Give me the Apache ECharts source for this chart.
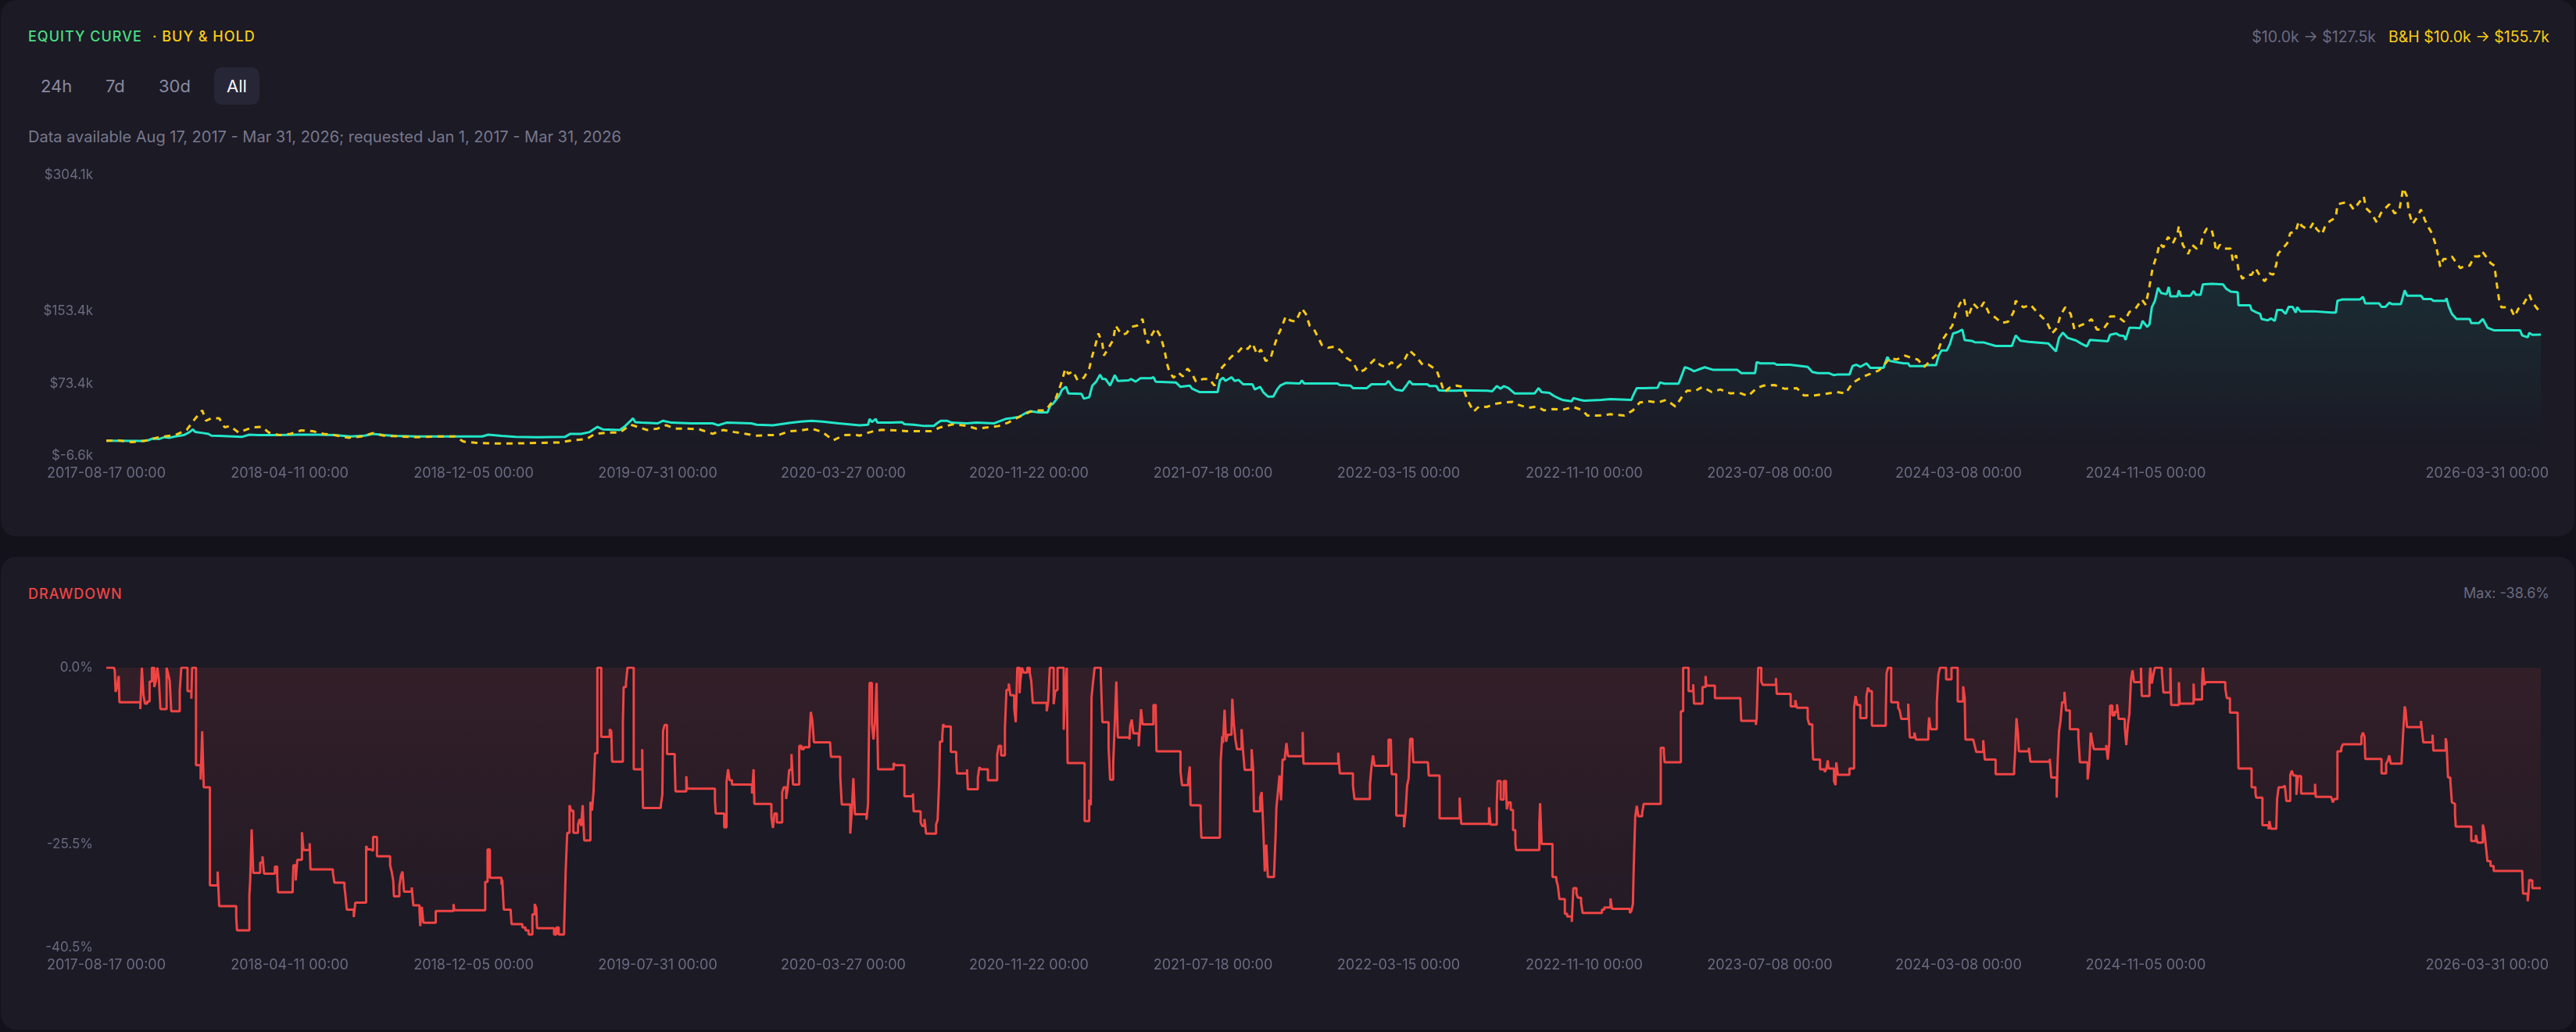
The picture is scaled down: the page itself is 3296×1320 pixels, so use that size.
<!DOCTYPE html>
<html>
<head>
<meta charset="utf-8">
<script src="https://cdn.jsdelivr.net/npm/echarts@6/dist/echarts.min.js"></script>
<style>
  html, body { margin:0; padding:0; width:3296px; height:1320px; overflow:hidden; background:#13121b; font-family: Inter, "Noto Sans", sans-serif; }
  .panel { position:absolute; left:1px; width:3293px; background:#1b1a25; border-radius:20px; }
  .t { position:absolute; white-space:nowrap; }
  .btn { position:absolute; top:86px; height:48px; line-height:48px; padding:0 16px; font-size:22px; color:#8a89a0; border-radius:10px; }
  .btn.on { background:#272636; color:#f4f4f8; }
  #chart { position:absolute; left:0; top:0; width:3296px; height:1320px; }
</style>
</head>
<body>
<div class="panel" style="top:0;height:686px"></div>
<div class="panel" style="top:712px;height:605px"></div>

<div class="t" style="left:36px;top:35px;height:24px;line-height:24px;font-size:18px;font-weight:500;letter-spacing:1px;color:#4ade80">EQUITY CURVE</div>
<div class="t" style="left:195px;top:35px;height:24px;line-height:24px;font-size:18px;font-weight:500;letter-spacing:1px;color:#facc15">· BUY &amp; HOLD</div>
<div class="btn" style="left:36px">24h</div>
<div class="btn" style="left:119px">7d</div>
<div class="btn" style="left:187px">30d</div>
<div class="btn on" style="left:274px">All</div>
<div class="t" style="left:36px;top:162px;height:26px;line-height:26px;font-size:20px;color:#78778c">Data available Aug 17, 2017 - Mar 31, 2026; requested Jan 1, 2017 - Mar 31, 2026</div>
<div class="t" style="right:34px;top:34px;height:26px;line-height:26px;font-size:19.5px;">
  <span style="color:#6b6a80">$10.0k → $127.5k</span><span style="color:#facc15;margin-left:16px">B&amp;H $10.0k → $155.7k</span>
</div>
<div class="t" style="left:36px;top:748px;height:24px;line-height:24px;font-size:18px;font-weight:500;letter-spacing:1px;color:#ef4444">DRAWDOWN</div>
<div class="t" style="right:34px;top:747px;height:24px;line-height:24px;font-size:18px;color:#6b6a80">Max: -38.6%</div>

<div id="chart"></div>
<script>
// x values are days since 2017-08-17; equity values in $k; drawdown in %
const START = '2017-08-17';
const LAST_DAY = 3148;
const tickDates = ['2017-08-17','2018-04-11','2018-12-05','2019-07-31','2020-03-27','2020-11-22','2021-07-18','2022-03-15','2022-11-10','2023-07-08','2024-03-08','2024-11-05','2026-03-31'];
const equityTicks = [-6.6, 73.4, 153.4, 304.1];
const ddTicks = [-40.5, -25.5, 0];

const strategy = [[0,10.0],[47,9.8],[54,10.5],[60,12.5],[68,11.9],[75,14.0],[82,13.4],[89,14.8],[100,16.3],[107,19.2],[112,22.6],[115,19.7],[125,18.6],[132,17.7],[136,15.7],[146,15.4],[175,14.3],[185,16.8],[196,16.3],[224,16.3],[245,16.8],[274,16.8],[295,16.3],[316,14.8],[334,15.7],[345,17.7],[359,16.3],[373,15.4],[401,14.8],[486,14.8],[494,16.8],[511,15.4],[529,14.3],[557,14.0],[593,14.3],[600,17.7],[614,17.7],[625,19.7],[635,25.5],[642,22.6],[664,22.0],[671,26.4],[678,32.2],[681,35.0],[684,30.7],[692,30.1],[713,29.3],[720,32.2],[731,30.1],[756,29.3],[784,29.3],[791,27.2],[802,30.1],[834,29.3],[841,27.8],[862,27.2],[883,29.8],[898,31.3],[912,32.2],[926,31.3],[947,29.3],[974,27.2],
[985,27.8],[987,34.2],[990,30.7],[995,34.2],[997,30.1],[1015,30.1],[1029,30.7],[1032,28.4],[1044,27.8],[1058,26.4],[1070,26.4],[1074,29.3],[1079,32.2],[1087,32.2],[1093,30.1],[1113,29.3],[1125,30.1],[1148,29.3],[1154,31.3],[1163,34.2],[1171,35.1],[1180,36.5],[1189,40.8],[1195,42.8],[1206,41.4],[1217,41.4],[1221,49.5],[1224,50.9],[1232,59.6],[1236,66.8],[1241,69.7],[1244,62.5],[1261,61.9],[1264,56.7],[1271,58.2],[1275,71.1],[1280,75.5],[1285,83.3],[1288,78.4],[1292,78.4],[1298,71.1],[1304,82.7],[1308,76.3],[1322,76.9],[1325,78.4],[1331,75.5],[1337,79.2],[1351,79.2],[1354,80.4],[1357,75.5],[1383,74.6],[1389,69.7],[1401,71.1],[1404,67.7],[1414,63.9],[1437,63.9],[1440,76.9],[1444,79.8],[1447,76.3],[1455,80.4],[1459,76.3],[1464,77.5],[1470,72.6],[1482,72.6],[1485,66.8],[1492,69.7],[1496,63.9],[1502,59.0],[1509,59.0],[1514,66.8],[1518,71.1],[1525,74.0],[1543,73.4],[1546,76.9],[1549,73.4],[1592,73.4],[1595,71.7],[1609,71.1],[1612,68.3],[1630,68.3],[1636,72.6],[1654,72.6],[1658,76.3],[1662,71.1],[1667,66.8],[1676,65.4],[1681,71.1],[1685,76.3],[1689,72.6],[1708,72.6],[1711,70.6],[1720,70.6],[1723,65.9],[1731,65.4],[1746,65.4],[1752,65.9],[1786,65.4],[1792,64.8],[1798,70.6],[1803,67.7],[1807,70.6],[1813,68.3],[1821,62.5],[1847,62.5],[1852,68.3],[1856,63.9],[1866,63.1],[1872,59.6],[1879,56.7],
[1884,55.0],[1895,53.8],[1897,57.3],[1906,55.3],[1911,54.4],[1933,55.3],[1945,56.1],[1972,55.3],[1974,59.6],[1979,68.3],[1988,68.3],[2006,68.8],[2009,74.6],[2015,73.2],[2033,73.2],[2036,79.8],[2041,91.4],[2044,90.8],[2049,89.0],[2053,87.0],[2062,89.9],[2067,91.4],[2078,88.5],[2109,88.5],[2114,85.0],[2132,85.0],[2134,97.1],[2139,95.7],[2157,95.7],[2160,94.2],[2177,94.2],[2179,92.8],[2200,91.9],[2206,86.2],[2213,85.0],[2227,85.0],[2234,82.7],[2238,83.3],[2254,83.3],[2258,92.8],[2263,94.2],[2268,91.9],[2276,95.7],[2281,90.8],[2298,90.8],[2303,102.9],[2306,98.6],[2315,97.1],[2324,95.7],[2330,95.7],[2332,92.8],[2349,92.8],[2353,93.7],[2366,93.7],[2369,103.6],[2373,110.1],[2380,110.1],[2384,117.3],[2388,128.9],[2394,130.3],[2400,133.2],[2403,121.5],[2412,120.7],[2416,119.2],[2428,118.8],[2443,115.0],[2464,115.0],[2469,126.6],[2475,120.8],[2486,119.6],[2511,117.9],[2521,109.0],[2525,124.0],[2530,129.8],[2536,124.0],[2547,121.1],[2553,117.9],[2561,114.5],[2565,121.7],[2588,120.2],
[2591,127.4],[2599,128.9],[2603,126.6],[2609,126.0],[2611,121.7],[2616,135.2],[2622,135.2],[2630,134.7],[2633,142.7],[2639,136.1],[2642,139.0],[2645,157.8],[2649,165.0],[2653,179.4],[2657,173.6],[2664,172.2],[2667,180.3],[2669,169.9],[2678,169.9],[2680,176.5],[2682,170.7],[2695,170.7],[2699,175.7],[2702,171.6],[2708,171.6],[2711,183.2],[2722,183.7],[2737,183.2],[2741,178.5],[2747,175.1],[2756,174.5],[2757,160.1],[2772,160.1],[2774,154.9],[2779,152.6],[2785,150.5],[2787,144.8],[2795,143.3],[2799,145.6],[2804,142.7],[2807,154.9],[2813,154.9],[2818,150.5],[2822,158.3],[2827,158.3],[2831,152.0],[2833,157.8],[2837,153.4],[2854,153.4],[2856,152.0],[2877,152.0],[2879,150.5],[2883,152.0],[2885,165.0],[2891,166.4],[2914,166.4],[2918,169.3],[2921,162.1],[2939,162.1],[2942,158.3],[2947,158.3],[2952,162.9],[2956,161.2],[2967,161.2],[2972,176.5],[2975,170.7],[2993,170.7],[2996,167.0],[3006,167.0],[3009,165.0],[3025,165.0],[3026,167.9],[3029,158.3],[3033,150.5],[3039,144.8],[3056,144.8],[3058,140.4],[3068,140.4],[3073,144.8],[3079,135.2],[3087,132.4],[3121,132.4],[3124,126.6],[3131,124.6],[3133,129.5],[3137,127.4],[3148,127.5]];

const buyHold = [[0,10.0],[15,10.5],[33,8.5],[50,10.0],[65,13.4],[75,14.8],[89,16.3],[104,22.0],[114,33.6],[124,43.7],[129,32.2],[136,35.0],[146,35.0],[153,24.9],[160,26.4],[171,19.2],[189,24.9],[201,25.5],[210,19.2],[224,16.3],[238,17.7],[252,21.5],[267,20.6],[281,17.7],[295,16.3],[313,13.4],[330,14.8],[345,18.6],[359,15.7],[380,14.8],[401,14.0],[430,14.8],[451,14.8],[462,9.1],[479,7.6],[501,7.1],[529,7.1],[557,7.6],[586,8.2],[603,10.5],[621,11.9],[632,17.7],[650,19.2],[664,19.2],[678,27.8],[689,24.9],[699,22.0],[713,23.5],[724,27.2],[735,23.5],[749,23.5],[767,22.6],[784,17.7],[798,22.0],[812,19.7],[827,17.7],[841,15.7],[855,16.3],[869,16.3],[883,20.6],[898,21.5],[912,23.5],[926,19.7],[940,10.5],[954,16.3],[968,16.8],
[974,15.7],[980,17.7],[992,20.6],[1003,22.1],[1021,21.5],[1035,20.6],[1053,20.6],[1067,20.6],[1079,25.0],[1096,28.4],[1113,26.4],[1125,23.5],[1142,25.0],[1154,26.4],[1166,30.1],[1177,35.1],[1195,42.3],[1206,43.7],[1215,43.7],[1221,50.9],[1227,55.3],[1232,66.8],[1236,76.9],[1240,89.9],[1244,84.1],[1250,87.0],[1256,76.9],[1264,79.8],[1271,89.9],[1275,104.3],[1279,115.9],[1283,128.9],[1288,117.3],[1290,104.3],[1296,113.0],[1302,121.7],[1305,137.5],[1310,131.2],[1314,127.4],[1319,128.9],[1325,136.1],[1333,137.5],[1340,144.8],[1343,129.5],[1347,117.9],[1351,126.0],[1357,134.7],[1363,126.0],[1368,111.6],[1372,94.2],[1375,85.6],[1380,79.8],[1386,85.6],[1392,81.3],[1398,89.9],[1404,84.1],[1409,75.5],[1418,78.4],[1426,78.4],[1433,71.1],[1438,85.6],[1443,91.4],[1449,97.1],[1453,101.5],[1459,106.4],[1464,108.7],[1470,114.5],[1476,111.6],[1482,117.9],[1488,105.8],[1493,111.0],[1499,98.6],[1505,100.0],[1509,111.6],[1514,124.6],[1520,136.1],[1525,147.6],[1531,143.3],[1538,141.9],[1546,156.3],[1551,150.5],[1556,137.5],[1561,134.7],[1566,126.0],[1572,115.9],[1580,113.0],[1589,114.5],[1596,110.1],[1604,101.5],[1612,97.1],[1619,85.6],[1627,88.5],[1633,94.2],[1640,100.0],[1647,94.2],[1654,91.4],[1662,97.1],[1669,90.8],[1677,97.1],[1685,110.1],[1694,102.9],[1702,94.2],[1710,94.2],[1720,88.5],[1725,76.9],[1730,63.9],[1737,68.8],[1746,71.1],[1754,69.7],[1760,55.3],[1768,42.3],[1775,48.0],[1785,47.5],[1795,50.9],[1807,52.4],[1818,53.2],[1827,49.5],[1839,46.6],[1850,48.0],[1859,43.7],[1871,45.2],
[1884,44.6],[1897,47.5],[1909,43.7],[1915,37.9],[1929,37.9],[1945,39.4],[1963,37.9],[1974,43.7],[1983,52.4],[1994,53.8],[2006,52.4],[2017,55.3],[2029,48.0],[2037,58.2],[2044,65.4],[2055,65.4],[2064,69.7],[2076,63.9],[2087,66.8],[2100,62.5],[2112,63.1],[2123,59.6],[2134,68.3],[2143,71.1],[2157,71.7],[2170,67.7],[2186,68.3],[2195,60.2],[2209,60.2],[2222,61.9],[2238,63.9],[2249,62.5],[2258,74.0],[2270,80.4],[2281,84.1],[2292,87.9],[2299,94.2],[2306,101.5],[2315,100.0],[2326,104.3],[2335,101.5],[2342,100.0],[2351,91.9],[2360,100.0],[2367,105.8],[2373,120.2],[2380,128.9],[2387,137.5],[2391,150.5],[2397,162.1],[2402,167.9],[2407,146.2],[2414,162.1],[2422,154.9],[2428,163.5],[2434,152.0],[2443,146.2],[2451,140.4],[2459,141.9],[2466,152.0],[2469,165.0],[2479,157.8],[2488,160.6],[2497,152.0],[2509,141.9],[2516,128.9],[2522,134.7],[2527,149.1],[2533,157.8],[2540,150.5],[2545,133.2],[2552,137.5],[2561,140.4],[2567,144.8],[2574,133.2],[2582,133.2],[2588,140.4],
[2591,147.6],[2601,147.6],[2609,141.9],[2616,152.6],[2624,156.3],[2632,166.4],[2637,160.6],[2641,176.5],[2646,201.1],[2652,216.9],[2655,228.5],[2660,224.2],[2666,235.7],[2672,228.5],[2678,238.6],[2680,247.8],[2685,227.0],[2692,216.9],[2697,227.0],[2703,222.7],[2708,225.6],[2711,237.1],[2716,244.9],[2722,244.4],[2726,231.4],[2728,219.8],[2733,227.0],[2739,222.7],[2747,222.7],[2750,208.3],[2754,215.5],[2757,199.6],[2762,189.5],[2769,193.8],[2774,193.8],[2779,201.1],[2785,192.4],[2791,186.6],[2797,195.3],[2802,193.8],[2806,205.4],[2808,216.9],[2814,222.7],[2820,228.5],[2824,240.0],[2831,241.5],[2835,253.0],[2839,247.8],[2843,245.8],[2849,244.4],[2854,251.6],[2858,244.4],[2865,238.6],[2869,247.3],[2875,253.0],[2883,257.4],[2885,271.8],[2895,273.8],[2900,273.2],[2906,266.0],[2912,272.7],[2919,280.5],[2922,267.5],[2929,261.7],[2936,251.6],[2941,261.7],[2947,267.5],[2952,271.8],[2959,261.7],[2965,265.1],[2970,289.6],[2975,280.5],[2977,264.6],[2982,250.1],[2987,255.9],[2993,266.0],[2998,254.5],[3003,245.8],[3007,240.0],[3011,229.9],[3014,219.8],[3018,202.5],[3022,211.2],[3027,211.2],[3033,214.1],[3039,206.8],[3044,201.1],[3050,203.9],[3056,203.9],[3062,214.1],[3068,214.1],[3072,219.8],[3077,214.1],[3083,206.8],[3088,203.9],[3091,183.7],[3094,166.4],[3097,157.8],[3104,157.8],[3110,154.9],[3114,147.6],[3119,156.3],[3125,160.6],[3133,172.2],[3137,163.5],[3142,157.8],[3146,153.4],[3148,155.7]];

const drawdown = [[0,0],[10,0],[11,-0.5],[12,-3.5],[14,-2.8],[16,-1.2],[17,-5.0],[44,-6.0],[46,0],[48,-3.9],[50,-5.2],[53,-4.9],[56,-2.0],[59,0],[62,-2.8],[64,-2.0],[66,0],[68,-1.7],[70,-6.0],[78,0],[80,-0.9],[82,-1.9],[84,-6.3],[95,-3.3],[97,0],[105,-3.4],[110,-4.5],[111,0],[116,-14.1],[122,-16.2],[124,-9.2],[126,-17.3],[134,-31.5],[144,-29.5],[146,-34.5],[168,-36.1],[169,-38.0],[185,-32.9],[186,-31.0],[188,-23.4],[190,-29.7],[199,-28.2],[202,-27.3],[204,-29.8],[218,-28.8],[221,-30.1],[222,-32.5],[241,-31.6],[242,-28.6],[245,-30.8],[247,-27.8],[253,-23.8],[255,-26.4],[263,-25.4],[264,-29.2],[293,-29.7],[295,-31.1],[308,-31.8],[309,-32.7],[311,-35.0],[320,-36.1],[322,-34.0],[336,-25.8],[338,-26.3],[342,-26.5],[345,-24.5],[350,-27.3],[367,-28.6],[369,-29.5],[371,-30.8],[372,-33.1],[379,-31.6],[381,-30.1],[383,-29.5],[385,-32.4],[395,-31.8],[397,-34.4],[405,-35.2],[406,-37.4],[408,-34.6],[410,-36.9],[426,-35.2],[449,-34.2],[450,-35.1],[490,-31.0],[493,-26.3],[496,-30.4],[511,-31.4],[512,-30.7],[514,-35.0],[523,-35.4],[524,-37.1],[538,-37.6],[542,-38.0],[546,-38.6],[551,-35.7],[554,-34.2],[556,-34.8],[557,-37.7],[579,-38.6],[582,-37.6],[585,-38.6],[592,-37.6],[594,-29.5],[596,-23.9],[599,-19.9],[601,-20.7],[604,-23.9],[610,-22.7],[612,-21.9],[614,-22.9],[616,-19.9],[618,-25.0],[626,-19.4],[628,-20.7],[630,-18.0],[632,-12.4],[635,0],[640,-10.0],[651,-8.9],[653,-9.2],[654,-13.6],[668,-7.9],[669,-2.8],[672,-2.2],[674,0],[682,-14.7],[693,-11.8],[694,-20.3],[717,-19.9],[719,-18.4],[720,-9.1],[722,-8.3],[725,-12.5],[735,-13.7],[736,-17.9],[750,-15.7],[751,-17.5],[787,-19.2],[788,-21.1],[799,-23.1],[802,-16.5],[804,-14.7],[806,-16.3],[809,-16.9],[835,-18.2],[837,-14.7],[838,-19.7],[860,-21.6],[862,-23.2],[864,-21.1],[867,-22.4],[874,-18.0],[876,-17.3],[879,-19.0],[881,-17.5],[883,-14.8],[886,-12.5],[888,-16.9],[896,-11.3],[899,-11.8],[902,-11.5],[909,-10.7],[911,-6.4],[913,-7.7],[915,-10.8],[936,-11.1],[937,-12.9],[949,-15.6],[951,-19.8],[962,-24.0],[964,-20.7],[966,-16.0],[968,-21.2],[983,-22.0],[985,-19.7],
[987,-2.2],[990,-8.1],[992,-10.4],[994,-7.7],[996,-2.2],[998,-14.7],[1018,-13.8],[1020,-14.1],[1032,-18.6],[1043,-18.2],[1044,-20.8],[1053,-22.4],[1055,-22.9],[1058,-21.9],[1060,-24.0],[1073,-22.7],[1075,-22.0],[1077,-16.2],[1078,-10.7],[1081,-9.9],[1082,-8.2],[1084,-8.5],[1092,-12.2],[1099,-13.2],[1100,-15.3],[1113,-14.7],[1114,-17.6],[1127,-15.9],[1129,-14.4],[1131,-14.7],[1140,-16.3],[1152,-12.6],[1154,-11.3],[1157,-12.7],[1162,-8.7],[1164,-3.2],[1167,-2.3],[1169,-4.0],[1174,-5.9],[1176,-7.9],[1178,0],[1181,-3.7],[1182,-1.9],[1184,0],[1186,-0.7],[1191,0],[1194,-0.7],[1196,-1.9],[1198,-5.1],[1216,-6.3],[1218,-4.9],[1220,0],[1225,-5.3],[1227,-3.4],[1228,-3.2],[1230,0],[1238,-9.0],[1240,-3.0],[1242,0],[1243,-13.8],[1265,-22.2],[1271,-19.1],[1273,-19.9],[1274,-4.3],[1276,-2.0],[1278,0],[1286,-1.3],[1288,-7.9],[1296,-11.5],[1298,-16.2],[1302,-13.9],[1304,-8.2],[1306,-2.0],[1308,-10.1],[1323,-10.4],[1324,-8.4],[1326,-7.5],[1328,-9.5],[1335,-11.4],[1336,-9.4],[1338,-6.0],[1340,-8.2],[1354,-5.4],[1357,-5.8],[1358,-12.1],[1389,-15.0],[1391,-17.0],[1399,-16.2],[1401,-14.3],[1402,-19.9],[1415,-21.7],[1416,-24.6],[1440,-24.3],[1441,-13.5],[1443,-9.9],[1444,-10.9],[1446,-6.1],[1448,-10.7],[1450,-9.7],[1455,-9.0],[1456,-4.5],[1458,-8.1],[1460,-10.4],[1462,-11.8],[1468,-8.9],[1470,-12.2],[1472,-14.8],[1481,-11.8],[1483,-14.7],[1484,-20.8],[1492,-18.8],[1494,-18.0],[1496,-23.1],[1498,-29.5],[1500,-25.6],[1502,-30.3],[1510,-29.9],[1512,-24.3],[1513,-20.3],[1515,-18.0],[1517,-15.6],[1519,-19.2],[1521,-13.3],[1524,-12.9],[1526,-10.9],[1528,-12.8],[1547,-9.3],[1548,-13.9],[1593,-12.3],[1595,-15.3],[1612,-17.1],[1614,-19.0],[1634,-16.9],[1636,-14.3],[1638,-12.7],[1640,-14.2],[1658,-10.4],[1661,-10.2],[1662,-15.4],[1668,-21.4],[1678,-23.1],[1680,-21.0],[1682,-17.1],[1684,-16.0],[1686,-10.3],[1689,-11.3],[1690,-13.7],[1709,-13.5],[1710,-15.6],[1724,-21.8],[1750,-18.8],[1752,-22.6],[1788,-20.2],[1790,-22.7],[1798,-19.8],[1799,-16.4],[1803,-19.1],[1807,-16.4],[1810,-17.5],[1811,-20.5],[1813,-19.5],[1816,-20.6],[1819,-23.5],[1822,-25.5],[1823,-26.4],
[1853,-22.5],[1854,-19.6],[1856,-25.5],[1870,-30.3],[1875,-30.7],[1877,-31.6],[1879,-33.5],[1886,-35.6],[1889,-36.0],[1895,-36.8],[1897,-31.9],[1901,-32.7],[1903,-33.3],[1907,-34.0],[1909,-35.5],[1934,-35.0],[1937,-34.7],[1945,-33.4],[1947,-34.9],[1970,-35.5],[1972,-35.2],[1974,-34.2],[1975,-29.2],[1977,-21.6],[1979,-20.0],[1981,-21.5],[1986,-21.0],[1988,-19.7],[2010,-11.6],[2014,-12.3],[2015,-13.7],[2036,-6.3],[2039,0],[2046,-3.4],[2052,-2.4],[2053,-5.2],[2064,-2.8],[2068,-1.2],[2069,-2.6],[2080,-4.4],[2113,-4.7],[2114,-7.7],[2133,-8.3],[2134,-7.4],[2136,0],[2140,-2.0],[2142,-2.5],[2159,-1.5],[2160,-3.8],[2178,-5.6],[2184,-4.7],[2186,-5.8],[2200,-7.4],[2202,-8.2],[2206,-10.3],[2207,-13.3],[2216,-14.7],[2222,-15.1],[2224,-14.7],[2226,-13.4],[2227,-14.6],[2234,-16.4],[2236,-17.0],[2237,-13.7],[2239,-15.5],[2254,-14.6],[2260,-5.8],[2262,-4.1],[2264,-5.4],[2268,-7.3],[2276,-4.1],[2278,-2.9],[2280,-3.4],[2283,-8.4],[2301,-6.6],[2302,-0.8],[2304,0],[2308,-5.0],[2317,-5.8],[2319,-6.2],[2321,-7.4],[2330,-5.2],[2332,-10.1],[2338,-9.4],[2340,-10.4],[2356,-9.0],[2357,-7.2],[2359,-8.9],[2367,-5.0],[2369,-1.0],[2371,0],[2379,-1.7],[2386,0],[2394,-4.9],[2401,-2.7],[2403,-4.3],[2404,-10.4],[2414,-10.6],[2416,-11.3],[2418,-12.2],[2427,-10.5],[2429,-13.3],[2443,-15.4],[2467,-14.6],[2468,-12.7],[2470,-7.3],[2472,-9.6],[2473,-12.1],[2486,-11.6],[2488,-13.6],[2513,-13.2],[2515,-15.9],[2522,-18.8],[2523,-14.2],[2525,-9.2],[2527,-7.6],[2529,-5.0],[2532,-3.5],[2534,-6.2],[2539,-8.9],[2550,-10.1],[2552,-13.7],[2562,-16.2],[2564,-14.2],[2566,-9.4],[2568,-10.7],[2570,-11.8],[2586,-11.2],[2588,-13.3],[2590,-10.9],[2591,-5.5],[2594,-6.9],[2597,-6.4],[2600,-5.3],[2602,-7.4],[2610,-8.6],[2612,-11.2],[2614,-8.3],[2616,-6.7],[2618,-1.8],[2620,-0.4],[2622,-2.1],
[2631,0],[2632,-4.1],[2642,-1.8],[2643,0],[2645,-2.3],[2647,-1.0],[2649,0],[2658,-0.7],[2660,-3.6],[2669,0],[2670,-5.4],[2680,-2.1],[2681,-5.2],[2699,-2.3],[2700,-4.6],[2710,-2.1],[2711,0],[2713,-2.5],[2715,-2.1],[2740,-3.0],[2742,-4.4],[2746,-6.5],[2756,-7.2],[2757,-14.6],[2774,-17.3],[2779,-18.2],[2780,-18.8],[2788,-22.8],[2796,-23.4],[2797,-22.2],[2799,-23.3],[2806,-22.8],[2807,-19.0],[2809,-17.3],[2814,-17.1],[2817,-17.3],[2819,-19.3],[2824,-15.5],[2826,-14.9],[2828,-15.6],[2832,-18.4],[2834,-15.7],[2838,-18.2],[2856,-16.8],[2857,-18.7],[2877,-18.5],[2879,-19.5],[2881,-19.0],[2885,-12.1],[2890,-11.6],[2892,-11.1],[2916,-10.0],[2918,-9.4],[2920,-10.0],[2921,-13.2],[2942,-15.3],[2948,-13.9],[2950,-13.5],[2952,-12.7],[2954,-13.9],[2968,-13.5],[2970,-9.4],[2972,-5.6],[2973,-6.1],[2975,-8.6],[2993,-7.7],[2995,-9.8],[2996,-10.8],[3008,-9.7],[3009,-12.0],[3025,-10.2],[3026,-10.8],[3028,-15.9],[3031,-16.4],[3033,-19.5],[3035,-19.7],[3037,-21.1],[3038,-23.0],[3058,-25.1],[3064,-24.2],[3066,-25.3],[3073,-22.7],[3075,-23.7],[3077,-25.9],[3079,-28.0],[3083,-28.7],[3087,-29.4],[3124,-30.0],[3125,-32.7],[3131,-33.8],[3132,-32.7],[3133,-30.7],[3135,-30.8],[3137,-31.9],[3148,-31.9]];

const T0 = Date.parse(START + 'T00:00:00Z');
const DAY = 86400000;
const tickDays = tickDates.map(s => Math.round((Date.parse(s + 'T00:00:00Z') - T0) / DAY));
function dayLabel(v) {
  const s = new Date(T0 + Math.round(v) * DAY).toISOString().slice(0, 10) + ' 00:00';
  // the last label is kept inside the chart's right edge
  return Math.round(v) === LAST_DAY ? '{end|' + s + '}' : s;
}

const labelColor = '#6b6a80';
const FONT = 'Inter';
function xAxisCfg(gi) {
  return {
    type: 'value', gridIndex: gi, min: 0, max: LAST_DAY,
    axisLine: { show: false }, axisTick: { show: false }, splitLine: { show: false },
    axisLabel: { customValues: tickDays, formatter: dayLabel, color: labelColor, fontSize: 18, fontFamily: FONT, margin: 14,
      rich: { end: { width: 20, align: 'right', color: labelColor, fontSize: 18, fontFamily: FONT } } }
  };
}
const yLabel = { color: labelColor, fontSize: 17, fontFamily: FONT, margin: 17, padding: [6, 0, 0, 0] };
const chart = echarts.init(document.getElementById('chart'), null, { renderer: 'canvas' });
chart.setOption({
  animation: false,
  backgroundColor: 'transparent',
  grid: [
    { left: 136, right: 45, top: 224, height: 359 },
    { left: 136, right: 45, top: 854, height: 358 }
  ],
  xAxis: [xAxisCfg(0), xAxisCfg(1)],
  yAxis: [
    { type: 'value', gridIndex: 0, min: -6.6, max: 304.1,
      axisLine: { show: false }, axisTick: { show: false }, splitLine: { show: false },
      axisLabel: Object.assign({ customValues: equityTicks, formatter: v => '$' + v.toFixed(1) + 'k' }, yLabel) },
    { type: 'value', gridIndex: 1, min: -40.5, max: 0,
      axisLine: { show: false }, axisTick: { show: false }, splitLine: { show: false },
      axisLabel: Object.assign({ customValues: ddTicks, formatter: v => v.toFixed(1) + '%' }, yLabel) }
  ],
  series: [
    { name: 'Strategy', type: 'line', xAxisIndex: 0, yAxisIndex: 0, data: strategy, showSymbol: false,
      lineStyle: { color: '#22e6c8', width: 3 },
      areaStyle: { color: new echarts.graphic.LinearGradient(0, 0, 0, 1, [
        { offset: 0, color: 'rgba(34,230,200,0.13)' }, { offset: 1, color: 'rgba(34,230,200,0.0)' }]) } },
    { name: 'Buy & Hold', type: 'line', xAxisIndex: 0, yAxisIndex: 0, data: buyHold, showSymbol: false,
      lineStyle: { color: '#f7c914', width: 3, type: [8, 7] } },
    { name: 'Drawdown', type: 'line', step: 'end', xAxisIndex: 1, yAxisIndex: 1, data: drawdown, showSymbol: false,
      lineStyle: { color: '#ef4444', width: 3 },
      areaStyle: { color: new echarts.graphic.LinearGradient(0, 0, 0, 1, [
        { offset: 0, color: 'rgba(239,68,68,0.16)' }, { offset: 1, color: 'rgba(239,68,68,0.05)' }]) } }
  ]
});
</script>
</body>
</html>
